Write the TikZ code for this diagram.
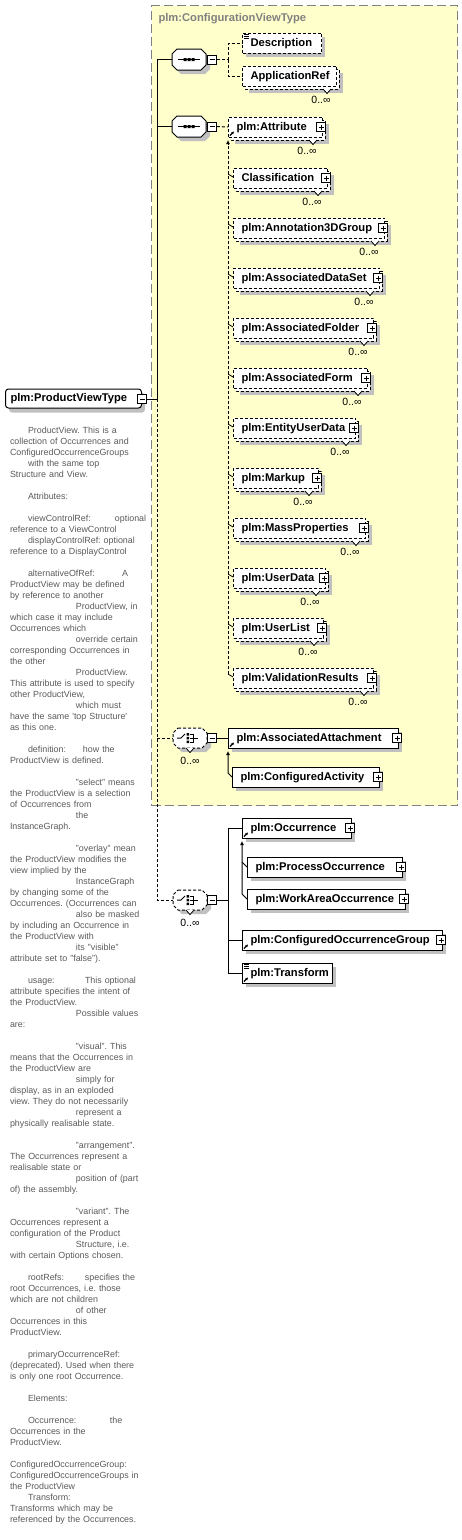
\documentclass[tikz,border=0pt]{standalone}
\usepackage{fontspec}
\setmainfont{Liberation Sans}
\usetikzlibrary{arrows.meta,calc}
\definecolor{yellowbg}{RGB}{255,255,204}
\definecolor{shadowc}{RGB}{192,192,192}
\definecolor{titlegray}{RGB}{128,128,128}
\definecolor{docgray}{RGB}{90,90,90}
\newcommand\lblfont{\fontsize{11.2}{13}\selectfont\bfseries}
\newcommand\multfont{\fontsize{10.5}{12}\selectfont}
\newcommand\docfont{\fontsize{8.9}{11}\selectfont\frenchspacing}
\tikzset{
 elbox/.style={draw, fill=white, line width=1pt, minimum height=20pt, inner xsep=8pt, inner ysep=0pt, anchor=west, font=\lblfont, text height=8.5pt, text depth=2.5pt},
 dbox/.style={dash pattern=on 3pt off 2pt},
 sbox/.style={solid},
 mult/.style={font=\multfont, inner sep=0},
 pm/.style={draw, fill=white, line width=.8pt, minimum size=9pt, inner sep=0},
 conn/.style={line width=1pt},
 dconn/.style={line width=1pt, dash pattern=on 3pt off 2pt},
 subarrow/.style={-{Latex[length=4pt,width=4pt]}},
}
% single element box
\newcommand\elem[6]{%
 \fill[shadowc] (#2+4,#3-6) rectangle (#4+4,#3+14);
 \node[elbox,#6,minimum width=#4-#2] (#1) at (#2,#3) {\makebox[\dimexpr#4pt-#2pt-16pt\relax][l]{#5}};}
% element with multiplicity 0..inf
\newcommand\elemM[6]{%
 \fill[shadowc] (#2+7,#3-3) rectangle (#4+7,#3+17);
 \draw[fill=white,line width=1pt,#6] (#2+3,#3-7) rectangle (#4+3,#3+13);
 \filldraw[fill=white,line width=.8pt] (#4-13,#3+13) -- (#4-9,#3+17.5) -- (#4-5,#3+13);
 \node[elbox,#6,minimum width=#4-#2] (#1) at (#2,#3) {\makebox[\dimexpr#4pt-#2pt-16pt\relax][l]{#5}};
 \node[mult] (#1-m) at (#4-15,#3+24) {0..∞};}
\newcommand\plusb[3]{\node[pm] (#1) at (#2,#3) {};
 \draw[line width=.8pt] (#2-2.5,#3) -- (#2+2.5,#3) (#2,#3-2.5) -- (#2,#3+2.5);}
\newcommand\minusb[3]{\node[pm] (#1) at (#2,#3) {};
 \draw[line width=.8pt] (#2-2.5,#3) -- (#2+2.5,#3);}
\newcommand\refic[2]{\draw[line width=1.1pt,-{Latex[length=2.5pt,width=3pt]}] (#1+2,#2+8.5) -- (#1+6,#2+4.5);}
\newcommand\docic[2]{\draw[line width=.6pt] (#1+2,#2-9) -- ++(4.5,0) (#1+2,#2-7) -- ++(4.5,0) (#1+2,#2-5) -- ++(4.5,0);}
\newcommand\octo[6]{%
 \fill[shadowc] (#2+9,#3+4) -- (#4-1,#3+4) -- (#4+4,#3+9) -- (#4+4,#5-1) -- (#4-1,#5+4) -- (#2+9,#5+4) -- (#2+4,#5-1) -- (#2+4,#3+9) -- cycle;
 \draw[fill=white,line width=1pt,#6] (#2+5,#3) -- (#4-5,#3) -- (#4,#3+5) -- (#4,#5-5) -- (#4-5,#5) -- (#2+5,#5) -- (#2,#5-5) -- (#2,#3+5) -- cycle;
 \node[inner sep=0, minimum width=#4-#2, minimum height=#5-#3] (#1) at ({(#2+#4)/2},{(#3+#5)/2}) {};}
\newcommand\seqic[2]{%
 \draw[line width=1pt] (#1-11,#2) -- (#1+11,#2);
 \fill (#1-5.5,#2-1.5) rectangle ++(3,3) (#1-1.5,#2-1.5) rectangle ++(3,3) (#1+2.5,#2-1.5) rectangle ++(3,3);}
\newcommand\choiceic[2]{%
 \draw[line width=1pt] (#1-12,#2) -- (#1-8,#2) -- (#1-4,#2-4);
 \fill (#1-2.5,#2-5) rectangle ++(2.5,2.5) (#1-2.5,#2-1.25) rectangle ++(2.5,2.5) (#1-2.5,#2+2.5) rectangle ++(2.5,2.5);
 \draw[line width=1pt] (#1+1,#2-4) -- (#1+4,#2-4) -- (#1+4,#2+4) -- (#1+1,#2+4) (#1+1,#2) -- (#1+9,#2);}
\begin{document}
\begin{tikzpicture}[x=1pt,y=-1pt,line width=1pt]
\useasboundingbox (0,0) rectangle (462,1540);
% base type container
\node[draw=titlegray, fill=yellowbg, dash pattern=on 9pt off 4pt, line width=1pt, minimum width=306pt, minimum height=800pt, anchor=north west, inner sep=0] (cvt) at (151,5) {};
\node[anchor=west, font=\lblfont, text=titlegray, inner sep=0] (cvttitle) at (158,19) {plm:ConfigurationViewType};

% root
\fill[shadowc, rounded corners=3pt] (9,393) rectangle (145,412.5);
\node[draw, fill=white, rounded corners=3pt, line width=1pt, minimum width=136pt, minimum height=19pt, inner xsep=5pt, inner ysep=0pt, anchor=west, font=\lblfont, text height=8.5pt, text depth=2.5pt] (root) at (5,398.5) {\makebox[126pt][l]{plm:ProductViewType}};
\minusb{rootminus}{142}{399}

% documentation
\node[anchor=north west, inner sep=0, text width=148pt, align=left, font=\docfont, text=docgray] (doc) at (9.5,427) {%
\hspace*{18pt}ProductView. This is a\\
collection of Occurrences and\\
ConfiguredOccurrenceGroups\\
\hspace*{18pt}with the same top\\
Structure and View.\\
\mbox{}\\
\hspace*{18pt}Attributes:\\
\mbox{}\\
\hspace*{18pt}\makebox[87pt][l]{viewControlRef:}optional\\
reference to a ViewControl\\
\hspace*{18pt}displayControlRef: optional\\
reference to a DisplayControl\\
\mbox{}\\
\hspace*{18pt}\makebox[94pt][l]{alternativeOfRef:}A\\
ProductView may be defined\\
by reference to another\\
\hspace*{66pt}ProductView, in\\
which case it may include\\
Occurrences which\\
\hspace*{66pt}override certain\\
corresponding Occurrences in\\
the other\\
\hspace*{66pt}ProductView.\\
This attribute is used to specify\\
other ProductView,\\
\hspace*{66pt}which must\\
have the same \textquotesingle top Structure\textquotesingle\\
as this one.\\
\mbox{}\\
\hspace*{18pt}\makebox[55pt][l]{definition:}how the\\
ProductView is defined.\\
\mbox{}\\
\hspace*{66pt}"select" means\\
the ProductView is a selection\\
of Occurrences from\\
\hspace*{66pt}the\\
InstanceGraph.\\
\mbox{}\\
\hspace*{66pt}"overlay" mean\\
the ProductView modifies the\\
view implied by the\\
\hspace*{66pt}InstanceGraph\\
by changing some of the\\
Occurrences. (Occurrences can\\
\hspace*{66pt}also be masked\\
by including an Occurrence in\\
the ProductView with\\
\hspace*{66pt}its "visible"\\
attribute set to "false").\\
\mbox{}\\
\hspace*{18pt}\makebox[57pt][l]{usage:}This optional\\
attribute specifies the intent of\\
the ProductView.\\
\hspace*{66pt}Possible values\\
are:\\
\mbox{}\\
\hspace*{66pt}"visual". This\\
means that the Occurrences in\\
the ProductView are\\
\hspace*{66pt}simply for\\
display, as in an exploded\\
view. They do not necessarily\\
\hspace*{66pt}represent a\\
physically realisable state.\\
\mbox{}\\
\hspace*{66pt}"arrangement".\\
The Occurrences represent a\\
realisable state or\\
\hspace*{66pt}position of (part\\
of) the assembly.\\
\mbox{}\\
\hspace*{66pt}"variant". The\\
Occurrences represent a\\
configuration of the Product\\
\hspace*{66pt}Structure, i.e.\\
with certain Options chosen.\\
\mbox{}\\
\hspace*{18pt}\makebox[57pt][l]{rootRefs:}specifies the\\
root Occurrences, i.e. those\\
which are not children\\
\hspace*{66pt}of other\\
Occurrences in this\\
ProductView.\\
\mbox{}\\
\hspace*{18pt}primaryOccurrenceRef:\\
(deprecated). Used when there\\
is only one root Occurrence.\\
\mbox{}\\
\hspace*{18pt}Elements:\\
\mbox{}\\
\hspace*{18pt}\makebox[82pt][l]{Occurrence:}the\\
Occurrences in the\\
ProductView.\\
\mbox{}\\
ConfiguredOccurrenceGroup:\\
ConfiguredOccurrenceGroups in\\
the ProductView\\
\hspace*{18pt}Transform:\\
Transforms which may be\\
referenced by the Occurrences.};

% compositors
\octo{seq1}{172}{49}{206}{70}{sbox}
\seqic{189}{59.5}
\minusb{seq1minus}{212}{59.5}
\octo{seq2}{172}{116}{206}{137}{sbox}
\seqic{189}{126.5}
\minusb{seq2minus}{212}{126.5}

\octo{ch1}{173}{728}{207}{748}{dbox}
\filldraw[fill=white,line width=.8pt] (186,748) -- (190,752.5) -- (194,748);
\choiceic{189}{738}
\minusb{ch1minus}{212}{738}
\node[mult] (ch1-m) at (190,761) {0..∞};

\octo{ch2}{173}{890}{207}{910}{dbox}
\filldraw[fill=white,line width=.8pt] (186,910) -- (190,914.5) -- (194,910);
\choiceic{189}{900}
\minusb{ch2minus}{212}{900}
\node[mult] (ch2-m) at (190,923) {0..∞};

% elements of the base type
\elem{desc}{242}{43}{321}{Description}{dbox}
\docic{242}{43}
\elemM{appref}{242}{76}{336}{ApplicationRef}{dbox}

\elemM{attr}{228}{127}{322}{plm:Attribute}{dbox}
\refic{228}{127}
\plusb{attr-p}{321}{127}
\elemM{classif}{233}{178}{327}{Classification}{dbox}
\plusb{classif-p}{326}{178}
\elemM{annot}{233}{228}{384}{plm:Annotation3DGroup}{dbox}
\plusb{annot-p}{383}{228}
\elemM{adset}{233}{278}{379}{plm:AssociatedDataSet}{dbox}
\plusb{adset-p}{378}{278}
\elemM{afold}{233}{328}{373}{plm:AssociatedFolder}{dbox}
\plusb{afold-p}{372}{328}
\elemM{aform}{233}{378}{367}{plm:AssociatedForm}{dbox}
\plusb{aform-p}{366}{378}
\elemM{eud}{233}{428}{355}{plm:EntityUserData}{dbox}
\plusb{eud-p}{354}{428}
\elemM{markup}{233}{478}{318}{plm:Markup}{dbox}
\plusb{markup-p}{317}{478}
\elemM{massp}{233}{528}{365}{plm:MassProperties}{dbox}
\plusb{massp-p}{364}{528}
\elemM{udata}{233}{578}{325}{plm:UserData}{dbox}
\plusb{udata-p}{324}{578}
\elemM{ulist}{233}{628}{323}{plm:UserList}{dbox}
\plusb{ulist-p}{322}{628}
\elemM{valid}{233}{678}{373}{plm:ValidationResults}{dbox}
\plusb{valid-p}{372}{678}

\elem{aattach}{228}{738}{398}{plm:AssociatedAttachment}{sbox}
\refic{228}{738}
\plusb{aattach-p}{397}{738}
\elem{cact}{232}{777}{379}{plm:ConfiguredActivity}{sbox}
\plusb{cact-p}{378}{777}

% elements of the extension
\elem{occ}{242}{828}{351}{plm:Occurrence}{sbox}
\refic{242}{828}
\plusb{occ-p}{350}{828}
\elem{procc}{247}{867}{402}{plm:ProcessOccurrence}{sbox}
\plusb{procc-p}{401}{867}
\elem{waocc}{247}{899}{405}{plm:WorkAreaOccurrence}{sbox}
\plusb{waocc-p}{404}{899}
\elem{cog}{242}{940}{442}{plm:ConfiguredOccurrenceGroup}{sbox}
\refic{242}{940}
\plusb{cog-p}{441}{940}
\elem{transf}{242}{973}{332}{plm:Transform}{sbox}
\refic{242}{973}
\docic{242}{973}

% connectors
\coordinate (spine) at (157,399);
\draw[conn] (rootminus.east) -- (spine);
\draw[conn] (spine) |- (seq1.west);
\draw[conn] (spine |- seq2.west) -- (seq2.west);
\draw[dconn] (spine) |- (ch2.west);
\draw[dconn] (spine |- ch1.west) -- (ch1.west);

\coordinate (j1) at (228,59.5);
\draw[dconn] (seq1minus.east) -- (j1);
\draw[dconn] (j1) |- (desc.west);
\draw[dconn] (j1) |- (appref.west);
\draw[dconn] (seq2minus.east) -- (attr.west);

\coordinate (attrsub) at (228,674);
\draw[dconn,subarrow] (attrsub) -- ([yshift=-2.5pt]attr.south west);
\foreach \m in {classif,annot,adset,afold,aform,eud,markup,massp,udata,ulist,valid}{
  \draw[line width=.8pt] ($(\m.west)+(-5,-4)$) -- ([yshift=1pt]\m.west);
}

\draw[conn] (ch1minus.east) -- (aattach.west);
\draw[conn,subarrow] (cact.west) -- ++(-4,-4) -- ([yshift=-2.5pt]aattach.south west);

\coordinate (j2) at (228,900);
\draw[conn] (ch2minus.east) -- (j2);
\draw[conn] (j2) |- (occ.west);
\draw[conn] (j2) |- (transf.west);
\draw[conn] (j2 |- cog.west) -- (cog.west);
\draw[conn,subarrow] (waocc.west) -- ++(-5,-5) -- ([yshift=-2.5pt]occ.south west);
\draw[conn] (procc.west) -- ++(-5,-5);
\end{tikzpicture}
\end{document}
